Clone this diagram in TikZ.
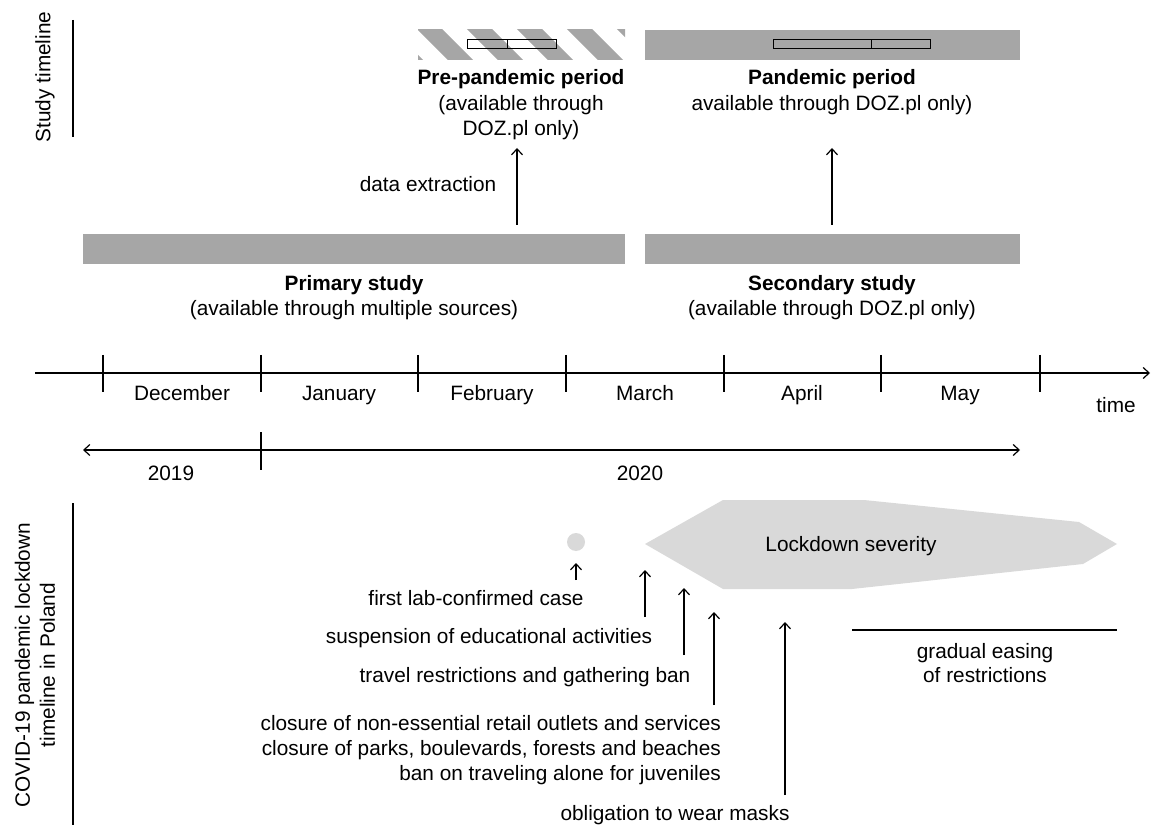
\documentclass[tikz,border=0pt]{standalone}
\usepackage{fontspec}
\setmainfont{Liberation Sans}
\usetikzlibrary{arrows.meta}
\definecolor{barGray}{HTML}{A6A6A6}
\definecolor{lightGray}{HTML}{D9D9D9}
\begin{document}
\begin{tikzpicture}[x=1pt,y=-1pt,
  lbl/.style={font=\fontsize{20.8}{25}\selectfont, inner sep=0pt, anchor=base},
  blbl/.style={lbl, font=\fontsize{20.8}{25}\selectfont\bfseries},
  barbox/.style={fill=barGray, draw=none, inner sep=0pt, anchor=north west, minimum height=30pt},
  arr/.style={line width=1.2pt, -{Straight Barb[length=6pt,width=11pt]}},
  thin/.style={line width=1.2pt},
  smallbox/.style={draw=black, line width=1pt}]
\useasboundingbox (0,0) rectangle (1152,826);

% side labels
\node[font=\fontsize{20.8}{25}\selectfont, rotate=90, inner sep=0pt] (lblstudy) at (45,77) {Study timeline};
\draw[thin] (73,20) -- (73,137);
\node[font=\fontsize{20.8}{25}\selectfont, rotate=90, inner sep=0pt, align=center] (lblcovid) at (35,665) {COVID-19 pandemic lockdown\\timeline in Poland};
\draw[thin] (73,503) -- (73,825);

% pre-pandemic hatched bar
\node[inner sep=0pt, anchor=north west, minimum width=207pt, minimum height=30pt] (prebar) at (418,30) {};
\begin{scope}
  \clip (418,30) rectangle (625,60);
  \foreach \k in {-1,...,5} {
    \draw[barGray, line width=17.7pt] (410.5+50*\k,10) -- (480.5+50*\k,80);
  }
\end{scope}
\draw[smallbox] (467,40) rectangle (556,49);
\draw[smallbox] (507,40) -- (507,49);

% pandemic bar
\node[barbox, minimum width=375pt] (panbar) at (645,30) {};
\draw[smallbox] (773,40) rectangle (930,49);
\draw[smallbox] (871,40) -- (871,49);

\node[blbl] (pretitle) at (521,85) {Pre-pandemic period};
\node[lbl] (pre2) at (521,111) {(available through};
\node[lbl] (pre3) at (521,136) {DOZ.pl only)};
\node[blbl] (pantitle) at (832,85) {Pandemic period};
\node[lbl] (pan2) at (832,111) {available through DOZ.pl only)};

% study bars
\node[barbox, minimum width=542pt] (primbar) at (83,234) {};
\node[barbox, minimum width=375pt] (secbar) at (645,234) {};
\node[blbl] (primtitle) at (354,291) {Primary study};
\node[lbl] (prim2) at (354,316) {(available through multiple sources)};
\node[blbl] (sectitle) at (832,291) {Secondary study};
\node[lbl] (sec2) at (832,316) {(available through DOZ.pl only)};

\coordinate (dx1) at (517,225);
\coordinate (dx2) at (517,148);
\draw[arr] (dx1) -- (dx2);
\node[lbl] (dxlbl) at (428,192) {data extraction};
\coordinate (px1) at (832,225);
\coordinate (px2) at (832,148);
\draw[arr] (px1) -- (px2);

% time axis
\coordinate (ta) at (35,373);
\coordinate (tb) at (1150,373);
\draw[arr] (ta) -- (tb);
\foreach \x in {103,261,418,566,724,881,1040} {
  \draw[thin] (\x,355) -- (\x,392);
}
\node[lbl] (mdec) at (182,400) {December};
\node[lbl] (mjan) at (339,400) {January};
\node[lbl] (mfeb) at (492,400) {February};
\node[lbl] (mmar) at (645,400) {March};
\node[lbl] (mapr) at (802,400) {April};
\node[lbl] (mmay) at (960,400) {May};
\node[lbl] (tlbl) at (1116,413) {time};

% years
\coordinate (ya) at (83,450);
\coordinate (yb) at (1020,450);
\draw[line width=1.2pt, {Straight Barb[length=6pt,width=11pt]}-{Straight Barb[length=6pt,width=11pt]}] (ya) -- (yb);
\draw[thin] (261,432) -- (261,470);
\node[lbl] (y2019) at (171,480) {2019};
\node[lbl] (y2020) at (640,480) {2020};

% lockdown
\fill[lightGray] (645,544) -- (723,500) -- (864,500) -- (1079,522) -- (1117,544) -- (1083,564) -- (852,589) -- (723,589) -- cycle;
\node[lbl] (lock) at (851,551) {Lockdown severity};
\node[circle, fill=lightGray, minimum size=18pt, inner sep=0pt] (casedot) at (576,542) {};

\coordinate (c1a) at (576,580); \coordinate (c1b) at (576,563);
\draw[arr] (c1a) -- (c1b);
\node[lbl] (c1t) at (476,605) {first lab-confirmed case};
\coordinate (c2a) at (645,617); \coordinate (c2b) at (645,570);
\draw[arr] (c2a) -- (c2b);
\node[lbl] (c2t) at (489,643) {suspension of educational activities};
\coordinate (c3a) at (684,655); \coordinate (c3b) at (684,588);
\draw[arr] (c3a) -- (c3b);
\node[lbl] (c3t) at (525,682) {travel restrictions and gathering ban};
\coordinate (c4a) at (714,705); \coordinate (c4b) at (714,612);
\draw[arr] (c4a) -- (c4b);
\node[lbl, anchor=base east] (c4t1) at (721,730) {closure of non-essential retail outlets and services};
\node[lbl, anchor=base east] (c4t2) at (721,755) {closure of parks, boulevards, forests and beaches};
\node[lbl, anchor=base east] (c4t3) at (721,780) {ban on traveling alone for juveniles};
\coordinate (c5a) at (785,795); \coordinate (c5b) at (785,622);
\draw[arr] (c5a) -- (c5b);
\node[lbl] (c5t) at (675,820) {obligation to wear masks};

\coordinate (ea) at (852,630); \coordinate (eb) at (1117,630);
\draw[thin] (ea) -- (eb);
\node[lbl] (e1) at (985,658) {gradual easing};
\node[lbl] (e2) at (985,682) {of restrictions};
\end{tikzpicture}
\end{document}
